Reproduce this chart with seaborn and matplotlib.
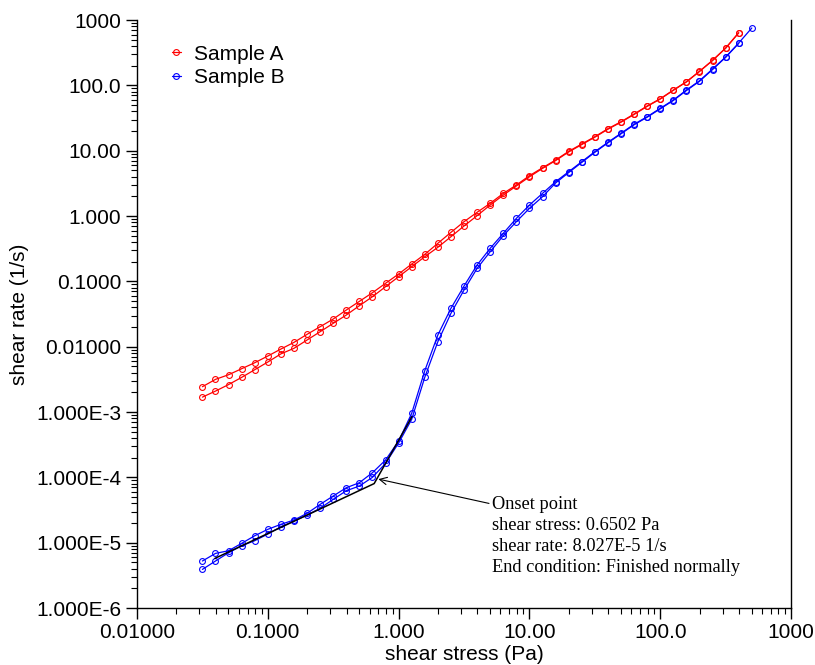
import numpy as np
import pandas as pd
import matplotlib
matplotlib.use("Agg")
import matplotlib.pyplot as plt
import seaborn as sns
from matplotlib.ticker import NullFormatter

# shear stress (Pa) - same stress steps for every sweep
stress = [0.03162, 0.03981, 0.05012, 0.0631, 0.07943, 0.1, 0.1259, 0.1585, 0.1995, 0.2512,
          0.3162, 0.3981, 0.5012, 0.631, 0.7943, 1.0, 1.259, 1.585, 1.995, 2.512,
          3.162, 3.981, 5.012, 6.31, 7.943, 10.0, 12.59, 15.85, 19.95, 25.12,
          31.62, 39.81, 50.12, 63.1, 79.43, 100.0, 125.9, 158.5, 199.5, 251.2,
          316.2, 398.1, 501.2]

# shear rate (1/s)
rate_a_up = [2.44e-3, 3.16e-3, 3.72e-3, 4.60e-3, 5.68e-3, 7.19e-3, 9.20e-3, 1.164e-2, 1.545e-2, 2.02e-2,
             2.65e-2, 3.64e-2, 4.94e-2, 6.70e-2, 9.33e-2, 0.1294, 0.184, 0.259, 0.382, 0.562,
             0.818, 1.140, 1.563, 2.22, 2.98, 4.14, 5.48, 7.19, 9.77, 12.65,
             16.37, 21.7, 27.7, 36.4, 48.3, 62.4, 84.7, 113.5, 164.1, 241.5,
             372.4, 639.7]
rate_a_down = [1.69e-3, 2.09e-3, 2.63e-3, 3.39e-3, 4.44e-3, 5.82e-3, 7.76e-3, 9.44e-3, 1.265e-2, 1.694e-2,
               2.275e-2, 3.05e-2, 4.24e-2, 5.82e-2, 8.28e-2, 0.1178, 0.1675, 0.238, 0.332, 0.482,
               0.703, 1.012, 1.472, 2.09, 2.88, 3.98, 5.35, 7.05, 9.55, 12.39,
               16.07, 21.3, 27.3, 35.8, 47.6, 61.7, 83.9, 112.7, 162.9, 239.9,
               369.8, 635.3]
rate_b_up = [5.24e-6, 6.85e-6, 7.53e-6, 9.77e-6, 1.276e-5, 1.60e-5, 1.91e-5, 2.22e-5, 2.81e-5, 3.86e-5,
             5.18e-5, 6.93e-5, 8.28e-5, 1.178e-4, 1.84e-4, 3.60e-4, 9.55e-4, 4.29e-3, 1.507e-2, 3.86e-2,
             8.47e-2, 0.178, 0.320, 0.543, 0.920, 1.472, 2.22, 3.35, 4.76, 6.78,
             9.64, 13.43, 18.45, 25.4, 33.1, 44.5, 59.6, 84.7, 117.5, 177.8,
             271.6, 444.6, 755.0]
rate_b_down = [3.90e-6, 5.24e-6, 7.01e-6, 8.97e-6, 1.072e-5, 1.355e-5, 1.754e-5, 2.14e-5, 2.65e-5, 3.36e-5,
               4.60e-5, 6.24e-5, 7.36e-5, 1.0e-4, 1.637e-4, 3.35e-4, 7.73e-4, 3.40e-3, 1.191e-2, 3.24e-2,
               7.36e-2, 0.158, 0.284, 0.500, 0.818, 1.309, 1.972, 3.20, 4.62, 6.61,
               9.44, 13.18, 18.11, 24.9, 32.5, 43.7, 58.6, 83.2, 115.3, 174.6,
               267.9, 438.5]

# onset analysis (tangent lines meeting at the onset point)
tangent_x = [0.0394, 0.6502, 1.265]
tangent_y = [5.75e-6, 8.027e-5, 8.5e-4]
onset_text = ("Onset point\nshear stress: 0.6502 Pa\nshear rate: 8.027E-5 1/s\n"
              "End condition: Finished normally")

xticks = [0.01, 0.1, 1, 10, 100, 1000]
xtick_labels = ["0.01000", "0.1000", "1.000", "10.00", "100.0", "1000"]
yticks = [1e-6, 1e-5, 1e-4, 1e-3, 0.01, 0.1, 1, 10, 100, 1000]
ytick_labels = ["1.000E-6", "1.000E-5", "1.000E-4", "1.000E-3", "0.01000", "0.1000",
                "1.000", "10.00", "100.0", "1000"]

sns.set_style("ticks")
plt.rcParams['font.family'] = ['Liberation Sans', 'DejaVu Sans']
plt.rcParams['text.color'] = 'black'
plt.rcParams['axes.labelcolor'] = 'black'
plt.rcParams['xtick.color'] = 'black'
plt.rcParams['ytick.color'] = 'black'

fig = plt.figure(figsize=(8.15, 6.65), dpi=100)
ax = fig.add_axes([0.1681, 0.0857, 0.8025, 0.8842])

curves = [
    (stress[:len(rate_a_up)], rate_a_up, "red", "Sample A"),
    (stress[:len(rate_a_down)], rate_a_down, "red", "_nolegend_"),
    (stress[:len(rate_b_up)], rate_b_up, "blue", "Sample B"),
    (stress[:len(rate_b_down)], rate_b_down, "blue", "_nolegend_"),
]
for xs, ys, col, lab in curves:
    sns.lineplot(x=xs, y=ys, ax=ax, color=col, lw=0.9, marker="o", markersize=4.2,
                 markerfacecolor="none", markeredgecolor=col, markeredgewidth=0.8,
                 label=lab, sort=False, estimator=None)

sns.lineplot(x=tangent_x, y=tangent_y, ax=ax, color="black", lw=1.1, sort=False,
             estimator=None, legend=False)

ax.set_xscale("log")
ax.set_yscale("log")
ax.set_xlim(0.01, 1000)
ax.set_ylim(1e-6, 1000)
ax.set_xticks(xticks, xtick_labels)
ax.set_yticks(yticks, ytick_labels)
ax.xaxis.set_minor_formatter(NullFormatter())
ax.yaxis.set_minor_formatter(NullFormatter())
ax.tick_params(which="major", length=8, width=1, labelsize=15, color="black",
               labelcolor="black", direction="out")
ax.tick_params(which="minor", length=4, width=0.8, color="black", direction="out")
ax.tick_params(axis="x", pad=3)

ax.spines["top"].set_visible(False)
ax.spines["right"].set_visible(True)
for s in ["left", "bottom", "right"]:
    ax.spines[s].set_color("black")
    ax.spines[s].set_linewidth(1)

ax.set_xlabel("shear stress (Pa)", fontsize=15, labelpad=2, color="black")
ax.set_ylabel("shear rate (1/s)", fontsize=15, labelpad=5, color="black")

ax.annotate(onset_text, xy=(0.70, 9.4e-5), xytext=(5.2, 5.15e-5),
            textcoords="data", ha="left", va="top", fontsize=13.2, color="black",
            family=["Liberation Serif", "DejaVu Serif"], linespacing=1.3,
            arrowprops=dict(arrowstyle="->", color="black", lw=0.8,
                            relpos=(0, 0.9), shrinkA=0, shrinkB=0))

leg = ax.legend(loc="upper left", bbox_to_anchor=(0.053, 0.958), frameon=False, fontsize=15,
                handlelength=0.45, handletextpad=0.6, labelspacing=0.2,
                borderpad=0, borderaxespad=0)
for t in leg.get_texts():
    t.set_color("black")

fig.savefig("out.png", dpi=100)
